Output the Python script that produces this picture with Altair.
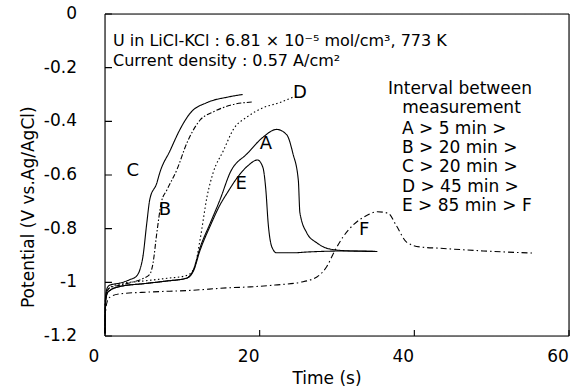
import altair as alt
import pandas as pd

# ---------------- data ----------------
A_t = [0, 0.05, 0.3, 0.65, 2, 5, 8, 10.5, 11.4, 12.3, 13.6, 14.9, 16.2, 18.4, 20.4, 22.2, 23.5, 24.3, 25, 25.2, 26.1, 27.4, 29.1, 31.7, 35.2]
A_v = [-1.19, -1.08, -1.04, -1.03, -1.015, -1.005, -0.995, -0.985, -0.955, -0.87, -0.78, -0.69, -0.59, -0.52, -0.46, -0.43, -0.45, -0.52, -0.62, -0.74, -0.816, -0.853, -0.876, -0.883, -0.885]

B_t = [0, 0.05, 0.3, 0.65, 2, 3.6, 5, 5.8, 6.2, 6.7, 7.3, 8, 9.3, 10.6, 12.3, 14, 16.2, 19]
B_v = [-1.19, -1.07, -1.03, -1.02, -1.01, -0.999, -0.985, -0.97, -0.93, -0.816, -0.70, -0.656, -0.58, -0.48, -0.395, -0.365, -0.34, -0.328]

C_t = [0, 0.05, 0.3, 0.65, 1.9, 3.2, 4.1, 4.5, 4.9, 5.4, 5.8, 6.7, 7.1, 8.4, 9.7, 11, 13.2, 15.8, 17.8]
C_v = [-1.19, -1.06, -1.02, -1.01, -1.003, -0.99, -0.976, -0.954, -0.905, -0.78, -0.69, -0.63, -0.59, -0.51, -0.43, -0.37, -0.33, -0.31, -0.30]

D_t = [0, 0.05, 0.3, 0.65, 2, 5, 8, 10.5, 11.5, 12.3, 13.2, 14, 15.3, 16.6, 18.4, 20.4, 22.6, 24.3]
D_v = [-1.19, -1.07, -1.03, -1.02, -1.005, -0.995, -0.985, -0.975, -0.95, -0.84, -0.68, -0.59, -0.51, -0.43, -0.383, -0.35, -0.33, -0.31]

E_t = [0, 0.05, 0.3, 0.65, 2, 5, 8, 10.5, 11.4, 12.3, 13.6, 14.9, 15.8, 17.1, 18.5, 19.7, 20.4, 20.8, 21.1, 21.6, 22.2, 24.3, 26.1, 31.7, 35.2]
E_v = [-1.19, -1.08, -1.04, -1.03, -1.015, -1.005, -0.995, -0.985, -0.96, -0.88, -0.79, -0.71, -0.667, -0.61, -0.565, -0.544, -0.57, -0.656, -0.78, -0.87, -0.89, -0.89, -0.887, -0.883, -0.885]

F_t = [0, 0.05, 0.3, 0.65, 1.9, 5.8, 11, 16.2, 18.8, 22, 25.2, 27.4, 28.7, 29.7, 30.8, 32.1, 33.9, 35.2, 36.6, 37.7, 39, 40.7, 43.3, 48.9, 55.3]
F_v = [-1.19, -1.12, -1.07, -1.055, -1.043, -1.036, -1.03, -1.02, -1.017, -1.01, -1.0, -0.98, -0.94, -0.883, -0.83, -0.786, -0.75, -0.737, -0.742, -0.79, -0.85, -0.868, -0.873, -0.883, -0.891]

series_names = ["A", "B", "C", "D", "E", "F"]
series_t = [A_t, B_t, C_t, D_t, E_t, F_t]
series_v = [A_v, B_v, C_v, D_v, E_v, F_v]
series_dash = [[1, 0], [5, 2, 1.5, 2], [1, 0], [1.5, 2.5], [1, 0], [6, 3, 1.5, 3]]

# curve label positions (data units)
lab_text = ["C", "B", "E", "A", "D", "F"]
lab_t = [3.6, 7.76, 17.6, 20.8, 25.2, 33.5]
lab_v = [-0.585, -0.73, -0.634, -0.484, -0.294, -0.805]

# header annotation
head_text = ["U in LiCl-KCl : 6.81 × 10\u207b\u2075 mol/cm\u00b3, 773 K", "Current density : 0.57 A/cm\u00b2"]
head_t = [1.03, 1.03]
head_v = [-0.10, -0.175]

# interval block
blk_title = ["Interval between", "measurement"]
blk_title_t = [45.9, 46.1]
blk_title_v = [-0.281, -0.351]
blk_rows = ["A > 5 min  >", "B > 20 min >", "C > 20 min >", "D > 45 min >", "E > 85 min > F"]
blk_rows_t = [38.4] * 5
blk_rows_v = [-0.4286, -0.4994, -0.5702, -0.6447, -0.7155]

# axes: ticks and their labels
x_ticks = [0, 20, 40, 60]
x_tick_labels = ["0", "20", "40", "60"]
y_ticks = [-1.2, -1, -0.8, -0.6, -0.4, -0.2, 0]
y_tick_labels = ["-1.2", "-1", "-0.8", "-0.6", "-0.4", "-0.2", "0"]
x_title = "Time (s)"
y_title = "Potential (V vs.Ag/AgCl)"
x_range = [0, 60]
y_range = [-1.2, 0]
YTICK_LEN = 0.9     # seconds (about 7 px)
XTICK_LEN = 0.022   # volts (about 6 px)

# ---------------- build one table: curves + frame + ticks ----------------
rows = []
for name, ts, vs in zip(series_names, series_t, series_v):
    for i, (t, v) in enumerate(zip(ts, vs)):
        rows.append({"series": name, "t": t, "v": v, "o": i})
frame_t = [x_range[0], x_range[0], x_range[1], x_range[1], x_range[0]]
frame_v = [y_range[0], y_range[1], y_range[1], y_range[0], y_range[0]]
for i, (t, v) in enumerate(zip(frame_t, frame_v)):
    rows.append({"series": "frame", "t": t, "v": v, "o": i})
tick_names = []
for k, v in enumerate(y_ticks):
    nm = f"ty{k}"
    tick_names.append(nm)
    rows.append({"series": nm, "t": x_range[0], "v": v, "o": 0})
    rows.append({"series": nm, "t": x_range[0] + YTICK_LEN, "v": v, "o": 1})
for k, t in enumerate(x_ticks):
    nm = f"tx{k}"
    tick_names.append(nm)
    rows.append({"series": nm, "t": t, "v": y_range[0], "o": 0})
    rows.append({"series": nm, "t": t, "v": y_range[0] + XTICK_LEN, "o": 1})
df = pd.DataFrame(rows)

dash_domain = series_names + ["frame"] + tick_names
dash_range = series_dash + [[1, 0]] * (1 + len(tick_names))
width_range = [1.1] * len(series_names) + [1.8] + [1.1] * len(tick_names)

FONT = "DejaVu Sans"
xs = alt.Scale(domain=x_range, nice=False, zero=False)
ys = alt.Scale(domain=y_range, nice=False, zero=False)


def X(f):
    return alt.X(f, scale=xs, axis=None)


def Y(f):
    return alt.Y(f, scale=ys, axis=None)


lines = alt.Chart(df).mark_line(color="black", interpolate="monotone").encode(
    x=X("t:Q"),
    y=Y("v:Q"),
    detail="series:N",
    order="o:Q",
    strokeDash=alt.StrokeDash("series:N", legend=None, scale=alt.Scale(domain=dash_domain, range=dash_range)),
    strokeWidth=alt.StrokeWidth("series:N", legend=None, scale=alt.Scale(domain=dash_domain, range=width_range)),
)

# tick labels and axis titles as text
ylab = alt.Chart(pd.DataFrame({"v": y_ticks, "text": y_tick_labels, "t": [x_range[0]] * len(y_ticks)})).mark_text(
    font=FONT, fontSize=17, color="black", align="right", baseline="middle", dx=-28).encode(
    x=X("t:Q"), y=Y("v:Q"), text="text:N")
xlab = alt.Chart(pd.DataFrame({"t": x_ticks, "text": x_tick_labels, "v": [y_range[0]] * len(x_ticks)})).mark_text(
    font=FONT, fontSize=17, color="black", align="center", baseline="middle", dx=-11, dy=21).encode(
    x=X("t:Q"), y=Y("v:Q"), text="text:N")
xttl = alt.Chart(pd.DataFrame({"t": [sum(x_range) / 2], "v": [y_range[0]], "text": [x_title]})).mark_text(
    font=FONT, fontSize=17, color="black", align="center", baseline="middle", dx=-10, dy=43).encode(
    x=X("t:Q"), y=Y("v:Q"), text="text:N")
yttl = alt.Chart(pd.DataFrame({"t": [x_range[0]], "v": [-0.72], "text": [y_title]})).mark_text(
    font=FONT, fontSize=17, color="black", align="center", baseline="middle", angle=270, dy=-76).encode(
    x=X("t:Q"), y=Y("v:Q"), text="text:N")

lab_df = pd.DataFrame({"text": lab_text, "t": lab_t, "v": lab_v})
labels = alt.Chart(lab_df).mark_text(font=FONT, fontSize=18, color="black", align="center", baseline="middle").encode(
    x=X("t:Q"), y=Y("v:Q"), text="text:N")

head_df = pd.DataFrame({"text": head_text, "t": head_t, "v": head_v})
head = alt.Chart(head_df).mark_text(font=FONT, fontSize=16, color="black", align="left", baseline="middle").encode(
    x=X("t:Q"), y=Y("v:Q"), text="text:N")

bt_df = pd.DataFrame({"text": blk_title, "t": blk_title_t, "v": blk_title_v})
btitle = alt.Chart(bt_df).mark_text(font=FONT, fontSize=17, color="black", align="center", baseline="middle").encode(
    x=X("t:Q"), y=Y("v:Q"), text="text:N")

br_df = pd.DataFrame({"text": blk_rows, "t": blk_rows_t, "v": blk_rows_v})
brows = alt.Chart(br_df).mark_text(font=FONT, fontSize=17, color="black", align="left", baseline="middle").encode(
    x=X("t:Q"), y=Y("v:Q"), text="text:N")

chart = alt.layer(lines, ylab, xlab, xttl, yttl, labels, head, btitle, brows).properties(
    width=464, height=322,
    background="white",
    autosize=alt.AutoSizeParams(type="none"),
    padding={"left": 105, "top": 14, "right": 6, "bottom": 52},
)

chart.save("out.html", embed_options={"renderer": "svg", "actions": False})
